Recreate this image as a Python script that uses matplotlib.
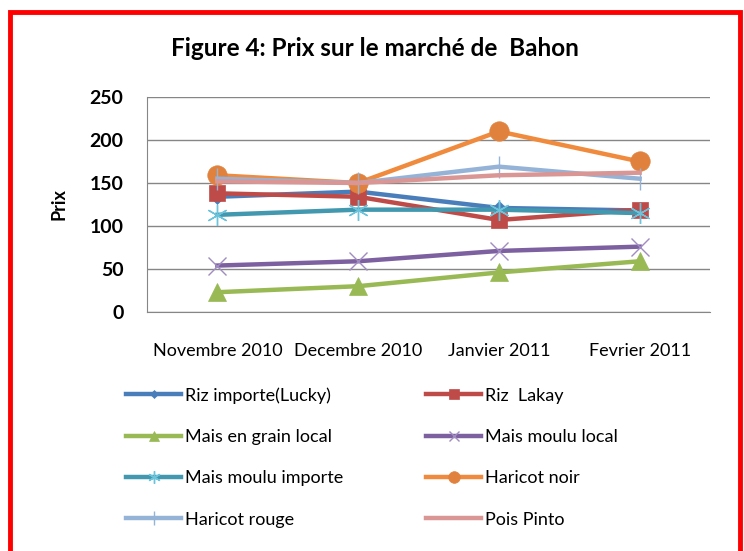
import numpy as np
import matplotlib.pyplot as plt
from matplotlib.patches import Rectangle

plt.rcParams['font.family'] = ['Lato', 'DejaVu Sans']

## data ##
months = ['Novembre 2010', 'Decembre 2010', 'Janvier 2011', 'Fevrier 2011']
riz_importe = [134, 140, 121, 118]
riz_lakay = [138, 134, 107, 119]
mais_grain = [23, 30, 46, 59]
mais_moulu_local = [54, 59, 71, 76]
mais_moulu_importe = [113, 119, 119, 115]
haricot_noir = [159, 150, 210, 175]
haricot_rouge = [155, 150, 169, 155]
pois_pinto = [152, 150, 159, 162]

## series styles ##
series = [
    ('Riz importe(Lucky)', riz_importe, '#4a7ebb', 'D', 7, '#4a7ebb'),
    ('Riz  Lakay', riz_lakay, '#be4b48', 's', 12, '#be4b48'),
    ('Mais en grain local', mais_grain, '#98b954', '^', 13, '#98b954'),
    ('Mais moulu local', mais_moulu_local, '#7d60a0', 'x', 13, '#a08cc0'),
    ('Mais moulu importe', mais_moulu_importe, '#4198af', (6, 2, 0), 15, '#6cc4dc'),
    ('Haricot noir', haricot_noir, '#f08a3c', 'o', 14, '#e0823d'),
    ('Haricot rouge', haricot_rouge, '#95b3d7', '|', 16, '#95b3d7'),
    ('Pois Pinto', pois_pinto, '#d99694', None, 0, '#d99694'),
]

fig = plt.figure(figsize=(7.44, 5.51), dpi=100)
ax = fig.add_axes([147/744, 1-312/551, (710-147)/744, (312-97)/551])

x = np.arange(len(months))
handles = []
for name, vals, col, mk, ms, mcol in series:
    thin = mk in ('x', '|', (6, 2, 0))
    h, = ax.plot(x, vals, color=col, linewidth=3.2, marker=mk, markersize=ms,
                 markerfacecolor=mcol, markeredgecolor=mcol,
                 markeredgewidth=1.0 if thin else 0.5, label=name)
    handles.append(h)

ax.set_xlim(-0.5, 3.5)
ax.set_ylim(0, 250)
ax.set_yticks(range(0, 251, 50))
ax.set_xticks(x)
ax.set_xticklabels(months, fontsize=13)
for t in ax.get_yticklabels():
    t.set_fontsize(14)
    t.set_fontweight('bold')
ax.tick_params(length=0)
ax.tick_params(axis='y', pad=17)
ax.tick_params(axis='x', pad=22)
ax.grid(axis='y', color='#868686', linewidth=1)
ax.set_axisbelow(True)
for s in ['top', 'right']:
    ax.spines[s].set_visible(False)
for s in ['left', 'bottom']:
    ax.spines[s].set_color('#868686')
ax.set_ylabel('Prix', fontsize=13, fontweight='bold', labelpad=16)

fig.text(375/744, 1-48/551, 'Figure 4: Prix sur le marché de  Bahon',
         fontsize=17.5, fontweight='bold', ha='center', va='center')

## legend, row-wise like the original ##
order = [0, 2, 4, 6, 1, 3, 5, 7]
leg = fig.legend([handles[i] for i in order], [series[i][0] for i in order],
                 ncol=2, loc='upper left', bbox_to_anchor=(110/744, 1-371/551),
                 frameon=False, fontsize=13, handlelength=3.05, handletextpad=0.2,
                 labelspacing=1.4, columnspacing=4.6, markerscale=0.6)

fig.patches.append(Rectangle((10/744, -0.1), 730/744, 1.1 - 12/551,
                             transform=fig.transFigure, fill=False,
                             edgecolor='#ff0000', linewidth=3.5))

plt.savefig('out.png', dpi=100)
